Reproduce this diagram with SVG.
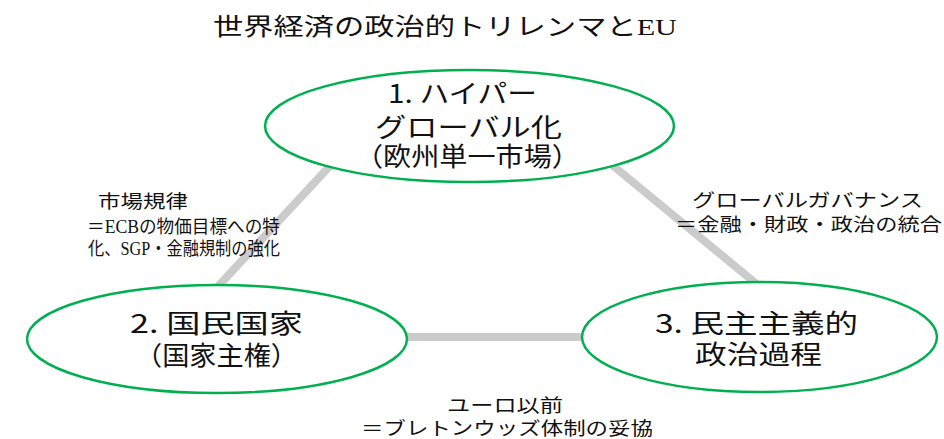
<svg xmlns="http://www.w3.org/2000/svg" width="944" height="439" viewBox="0 0 944 439">
<style>
text{font-family:"Noto Sans CJK JP","Noto Sans",sans-serif;fill:#111;}
.t{font-size:24px;}
.n{font-size:26px;}
.l{font-size:18.5px;}
.s{font-family:"Liberation Serif","Noto Sans CJK JP",serif;}
.e{fill:#fff;stroke:#00b050;stroke-width:2.5;}
.c{stroke:#cbcbcb;stroke-width:8;fill:none;}
</style>
<rect width="944" height="439" fill="#fff"/>
<text class="t" x="213" y="35" textLength="464" lengthAdjust="spacingAndGlyphs">世界経済の政治的トリレンマと<tspan class="s">EU</tspan></text>
<g id="connectors">
<line class="c" x1="340" y1="155" x2="210" y2="295"/>
<line class="c" x1="600" y1="155" x2="770" y2="295"/>
<line class="c" x1="400" y1="337" x2="590" y2="337"/>
</g>
<g id="node1">
<ellipse class="e" cx="469.5" cy="126" rx="204.5" ry="56"/>
<text class="n" x="388" y="103" textLength="149" lengthAdjust="spacingAndGlyphs">1. ハイパー</text>
<text class="n" x="375" y="137" textLength="187" lengthAdjust="spacingAndGlyphs">グローバル化</text>
<text class="n" x="355" y="166" textLength="225" lengthAdjust="spacingAndGlyphs">（欧州単一市場）</text>
</g>
<g id="node2">
<ellipse class="e" cx="217" cy="339" rx="190" ry="54"/>
<text class="n" x="130" y="333" textLength="173" lengthAdjust="spacingAndGlyphs">2. 国民国家</text>
<text class="n" x="135" y="365" textLength="163" lengthAdjust="spacingAndGlyphs">（国家主権）</text>
</g>
<g id="node3">
<ellipse class="e" cx="759.5" cy="337" rx="177.5" ry="55"/>
<text class="n" x="655" y="333" textLength="203" lengthAdjust="spacingAndGlyphs">3. 民主主義的</text>
<text class="n" x="695" y="364" textLength="127" lengthAdjust="spacingAndGlyphs">政治過程</text>
</g>
<g id="label-left">
<text class="l" x="98" y="208" textLength="90" lengthAdjust="spacingAndGlyphs">市場規律</text>
<text class="l" x="87" y="233" textLength="193" lengthAdjust="spacingAndGlyphs">＝<tspan class="s">ECB</tspan>の物価目標への特</text>
<text class="l" x="88" y="255" textLength="192" lengthAdjust="spacingAndGlyphs">化、<tspan class="s">SGP</tspan>・金融規制の強化</text>
</g>
<g id="label-right">
<text class="l" x="692" y="207" textLength="231" lengthAdjust="spacingAndGlyphs">グローバルガバナンス</text>
<text class="l" x="675" y="231" textLength="267" lengthAdjust="spacingAndGlyphs">＝金融・財政・政治の統合</text>
</g>
<g id="label-bottom">
<text class="l" x="447" y="412" textLength="116" lengthAdjust="spacingAndGlyphs">ユーロ以前</text>
<text class="l" x="361" y="435" textLength="292" lengthAdjust="spacingAndGlyphs">＝ブレトンウッズ体制の妥協</text>
</g>
</svg>
